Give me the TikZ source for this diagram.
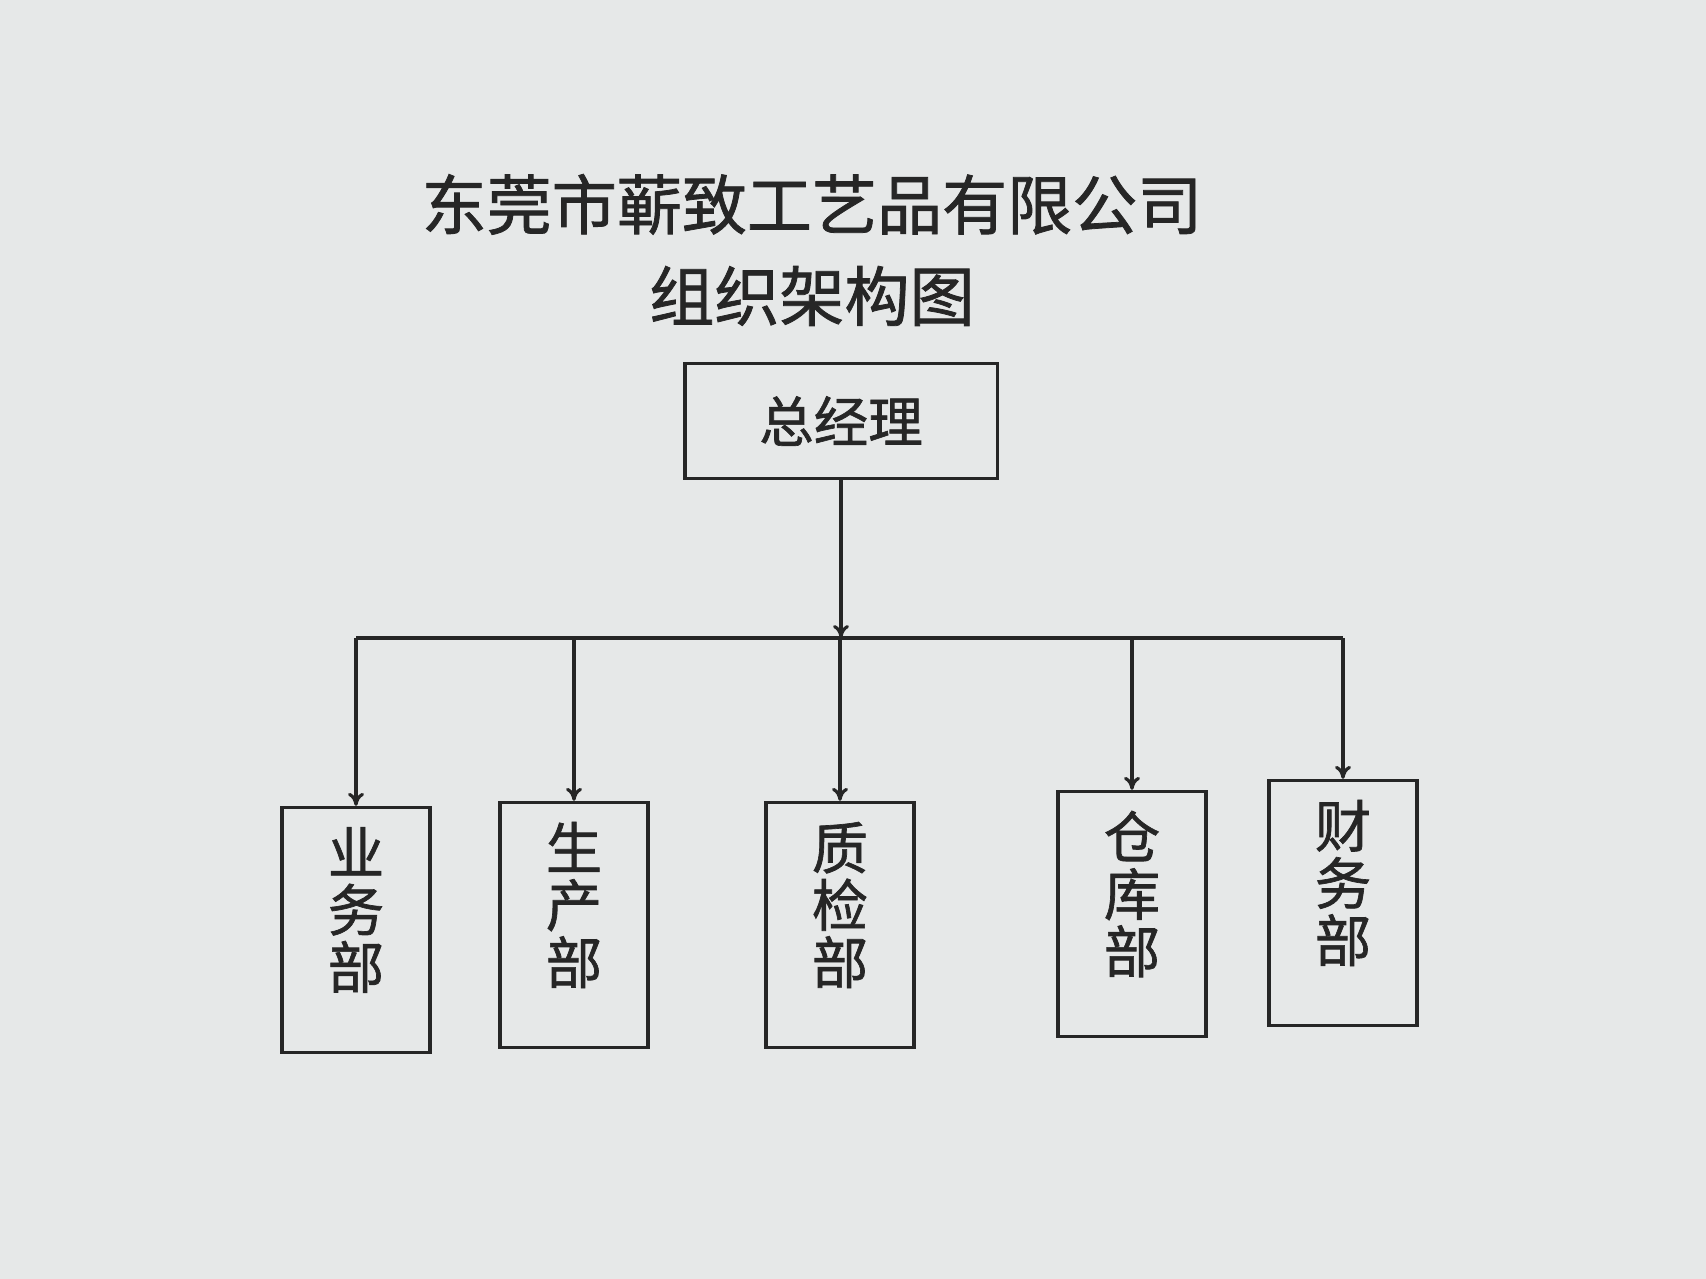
\documentclass[tikz,border=0pt]{standalone}
\usepackage{fontspec}
\usepackage{xcolor}
\usepackage{tikz}
\usetikzlibrary{arrows.meta, positioning, calc}
\newfontfamily\cjk{Noto Sans CJK SC}[FakeBold=1.2]
\definecolor{paperbg}{HTML}{E6E8E8}
\definecolor{inkline}{HTML}{262626}

\tikzset{
  orgbox/.style={draw=inkline, line width=0.9pt, text=inkline, font=\cjk\fontsize{15.5}{18}\selectfont, align=center, inner sep=0pt},
  deptbox/.style={orgbox, minimum width=1.48cm, minimum height=2.45cm},
  depttext/.style={text=inkline, font=\cjk\fontsize{16}{16.3}\selectfont, align=center, inner sep=0pt, yshift=0.2cm},
  orgarrow/.style={draw=inkline, line width=0.9pt, -{To[length=1.3mm,width=1.6mm]}},
  orgline/.style={draw=inkline, line width=0.9pt}
}

\begin{document}
\begin{tikzpicture}[x=0.01cm, y=-0.01cm]
    \fill[paperbg] (0,0) rectangle (1706,1279);
    \useasboundingbox (0,0) rectangle (1706,1279);

    % Title
    \node[text=inkline, font=\cjk\fontsize{18.5}{26}\selectfont, align=center] (title) at (812,250) {东莞市蕲致工艺品有限公司\\组织架构图};

    % General manager
    \node[orgbox, minimum width=3.12cm, minimum height=1.15cm] (gm) at (841,421) {总经理};

    % Departments
    \node[deptbox, label={[depttext]center:业\\务\\部}] (sales) at (356,930) {};
    \node[deptbox, label={[depttext]center:生\\产\\部}] (prod) at (574,925) {};
    \node[deptbox, label={[depttext]center:质\\检\\部}] (qc) at (840,925) {};
    \node[deptbox, label={[depttext]center:仓\\库\\部}] (store) at (1132,914) {};
    \node[deptbox, label={[depttext]center:财\\务\\部}] (fin) at (1343,903) {};

    % Connectors
    \coordinate (barL) at (356,638);
    \coordinate (barR) at (1343,638);
    \coordinate (jn) at (841,638);
    \draw[orgarrow] (gm.south) -- (jn);
    \draw[orgline] (barL) -- (barR);
    \foreach \d in {sales, prod, qc, store, fin}
        \draw[orgarrow] (\d.north |- barL) -- (\d.north);
\end{tikzpicture}
\end{document}
